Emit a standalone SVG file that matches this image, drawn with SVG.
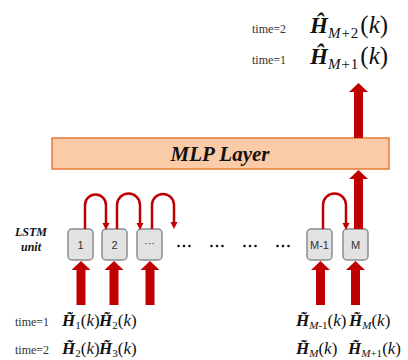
<svg xmlns="http://www.w3.org/2000/svg" width="408" height="360" viewBox="0 0 408 360">
<style>
.box{fill:#e2e2e2;stroke:#8c8c8c;stroke-width:1.5}
.blab{font-family:"Liberation Sans",Arial,sans-serif;font-size:11px;fill:#333;text-anchor:middle}
.blk{fill:#c00000}
.loop{fill:none;stroke:#c00000;stroke-width:2.5}
.serif{font-family:"Liberation Serif","Times New Roman","DejaVu Serif",serif}
.time{font-family:"Liberation Serif","Times New Roman","DejaVu Serif",serif;font-size:12px;fill:#333}
.hb{font-weight:bold;font-style:italic;fill:#111}
.mi{font-style:italic;fill:#111}
.up{fill:#111}
.dot{fill:#111}
.title{font-family:"Liberation Serif","Times New Roman","DejaVu Serif",serif;font-weight:bold;font-style:italic;fill:#111;text-anchor:middle}
</style>
<defs>
<path id="inarrow" d="M0,0 L9.5,9 L4.5,9 L4.5,44 L-4.5,44 L-4.5,9 L-9.5,9 Z"/>
<g id="ell"><circle cx="-5.5" cy="0" r="1.3"/><circle cx="0" cy="0" r="1.3"/><circle cx="5.5" cy="0" r="1.3"/></g>
</defs>

<g id="mlp">
<rect x="52" y="138" width="337" height="31" fill="#fbcaa6" stroke="#e87a35" stroke-width="1.5"/>
<text class="title" x="220" y="161" font-size="21">MLP Layer</text>
</g>

<g id="lstm-label">
<text class="title" x="31" y="236" font-size="12">LSTM</text>
<text class="title" x="31" y="251" font-size="12">unit</text>
</g>

<g id="unit1"><rect class="box" x="68" y="229" width="25" height="31" rx="4"/><text class="blab" x="80.5" y="249">1</text></g>
<g id="unit2"><rect class="box" x="102" y="229" width="25" height="31" rx="4"/><text class="blab" x="114.5" y="249">2</text></g>
<g id="unit3"><rect class="box" x="137" y="229" width="25" height="31" rx="4"/><text class="blab" x="149.5" y="247">···</text></g>
<g id="unitM1"><rect class="box" x="307" y="229" width="25" height="31" rx="4"/><text class="blab" x="319.5" y="249">M-1</text></g>
<g id="unitM"><rect class="box" x="343" y="229" width="25" height="31" rx="4"/><text class="blab" x="355.5" y="249">M</text></g>

<g id="ellipses" class="dot">
<use href="#ell" x="184" y="246"/>
<use href="#ell" x="217" y="246"/>
<use href="#ell" x="250" y="246"/>
<use href="#ell" x="283" y="246"/>
</g>

<g id="connectors">
<path class="loop" d="M85,229 V205 A10.5,10.5 0 0 1 106,205 V223"/>
<path class="loop" d="M117,229 V205 A11.5,11.5 0 0 1 140,205 V223"/>
<path class="loop" d="M152,229 V205 A11,11 0 0 1 174,205 V222"/>
<path class="loop" d="M323,229 V205 A11.5,11.5 0 0 1 346,205 V223"/>
<path class="blk" d="M102.5,223 L109.5,223 L106,230 Z"/>
<path class="blk" d="M136.5,223 L143.5,223 L140,230 Z"/>
<path class="blk" d="M170.5,222 L177.5,222 L174,229 Z"/>
<path class="blk" d="M342.5,223 L349.5,223 L346,230 Z"/>
<use href="#inarrow" class="blk" x="81" y="261"/>
<use href="#inarrow" class="blk" x="114" y="261"/>
<use href="#inarrow" class="blk" x="150" y="261"/>
<use href="#inarrow" class="blk" x="320.5" y="261"/>
<use href="#inarrow" class="blk" x="355.5" y="261"/>
<path class="blk" d="M358.5,170 L368,179 L363,179 L363,229 L354,229 L354,179 L349,179 Z"/>
<path class="blk" d="M358.5,83 L368,92 L363,92 L363,138 L354,138 L354,92 L349,92 Z"/>
</g>

<g id="outputs" class="serif">
<text class="time" x="252" y="33">time=2</text>
<text x="310" y="33"><tspan class="hb" font-size="23">Ĥ</tspan><tspan class="mi" font-size="15" dy="5">M</tspan><tspan class="up" font-size="15" dx="1" letter-spacing="1">+2</tspan><tspan class="up" font-size="25" dy="-5" dx="1">(</tspan><tspan class="mi" font-size="25">k</tspan><tspan class="up" font-size="25">)</tspan></text>
<text class="time" x="252" y="64">time=1</text>
<text x="310" y="64"><tspan class="hb" font-size="23">Ĥ</tspan><tspan class="mi" font-size="15" dy="5">M</tspan><tspan class="up" font-size="15" dx="1" letter-spacing="1">+1</tspan><tspan class="up" font-size="25" dy="-5" dx="1">(</tspan><tspan class="mi" font-size="25">k</tspan><tspan class="up" font-size="25">)</tspan></text>
</g>

<g id="inputs" class="serif">
<text class="time" x="15" y="326">time=1</text>
<text x="62" y="326"><tspan class="hb" font-size="17">H̃</tspan><tspan class="up" font-size="11" dy="3">1</tspan><tspan class="up" font-size="17" dy="-3">(</tspan><tspan class="mi" font-size="17">k</tspan><tspan class="up" font-size="17">)</tspan></text>
<text x="99" y="326"><tspan class="hb" font-size="17">H̃</tspan><tspan class="up" font-size="11" dy="3">2</tspan><tspan class="up" font-size="17" dy="-3">(</tspan><tspan class="mi" font-size="17">k</tspan><tspan class="up" font-size="17">)</tspan></text>
<text class="time" x="15" y="354">time=2</text>
<text x="62" y="354"><tspan class="hb" font-size="17">H̃</tspan><tspan class="up" font-size="11" dy="3">2</tspan><tspan class="up" font-size="17" dy="-3">(</tspan><tspan class="mi" font-size="17">k</tspan><tspan class="up" font-size="17">)</tspan></text>
<text x="99" y="354"><tspan class="hb" font-size="17">H̃</tspan><tspan class="up" font-size="11" dy="3">3</tspan><tspan class="up" font-size="17" dy="-3">(</tspan><tspan class="mi" font-size="17">k</tspan><tspan class="up" font-size="17">)</tspan></text>
<text x="296" y="326"><tspan class="hb" font-size="17">H̃</tspan><tspan class="mi" font-size="11" dy="3">M</tspan><tspan class="up" font-size="11">-1</tspan><tspan class="up" font-size="17" dy="-3">(</tspan><tspan class="mi" font-size="17">k</tspan><tspan class="up" font-size="17">)</tspan></text>
<text x="349" y="326"><tspan class="hb" font-size="17">H̃</tspan><tspan class="mi" font-size="11" dy="3">M</tspan><tspan class="up" font-size="17" dy="-3">(</tspan><tspan class="mi" font-size="17">k</tspan><tspan class="up" font-size="17">)</tspan></text>
<text x="296" y="354"><tspan class="hb" font-size="17">H̃</tspan><tspan class="mi" font-size="11" dy="3">M</tspan><tspan class="up" font-size="17" dy="-3">(</tspan><tspan class="mi" font-size="17">k</tspan><tspan class="up" font-size="17">)</tspan></text>
<text x="348" y="354"><tspan class="hb" font-size="17">H̃</tspan><tspan class="mi" font-size="11" dy="3">M</tspan><tspan class="up" font-size="11">+1</tspan><tspan class="up" font-size="17" dy="-3">(</tspan><tspan class="mi" font-size="17">k</tspan><tspan class="up" font-size="17">)</tspan></text>
</g>
</svg>
